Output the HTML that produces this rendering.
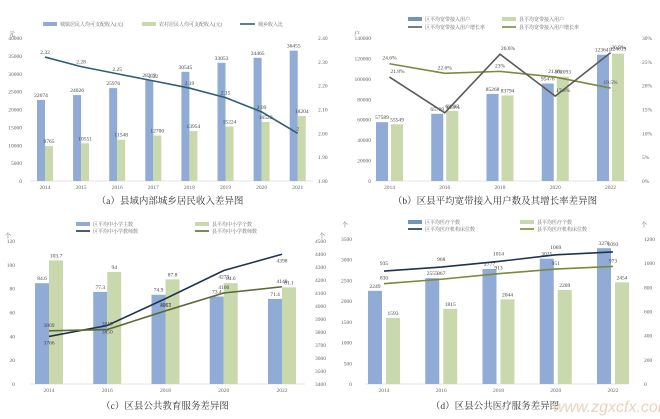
<!DOCTYPE html>
<html><head><meta charset="utf-8"><style>
html,body{margin:0;padding:0;background:#fff;}
svg{display:block;font-family:"Liberation Serif","Noto Serif CJK SC",serif;}
</style></head><body>
<svg id="s" width="660" height="419" viewBox="0 0 660 419" xmlns="http://www.w3.org/2000/svg"></svg>
<script>
const S=document.getElementById('s');let h='';
const B='#8fabd6',G='#cad9ad';
function t(x,y,s,sz,fill,anchor){h+=`<text x="${x}" y="${y}" font-size="${sz||5.5}" fill="${fill||'#555'}" text-anchor="${anchor||'middle'}">${s}</text>`;}
function panel(o){
 // axes labels
 const {y0,y1,lx,rx,lmax,lstep,rmin,rmax,rstep,rfmt,cats,c0,dx,bw,gap,blue,green,lines,title,ax0,ax1}=o;
 for(let v=0;v<=lmax;v+=lstep){const y=y1-(v/lmax)*(y1-y0);t(lx,y+2,v,5.5,'#666','end');}
 for(let v=rmin;v<=rmax+1e-9;v+=rstep){const y=y1-((v-rmin)/(rmax-rmin))*(y1-y0);t(rx,y+2,rfmt(v),5.5,'#666','start');}
 h+=`<line x1="${ax0}" y1="${y1}" x2="${ax1}" y2="${y1}" stroke="#ccc" stroke-width="0.6"/>`;
 const ly=v=>y1-(v/lmax)*(y1-y0), ry=v=>y1-((v-rmin)/(rmax-rmin))*(y1-y0);
 cats.forEach((c,i)=>{const cx=c0+i*dx;
  const bx=cx-gap/2-bw, gx=cx+gap/2;
  h+=`<rect x="${bx}" y="${ly(blue[i])}" width="${bw}" height="${y1-ly(blue[i])}" fill="${B}"/>`;
  h+=`<rect x="${gx}" y="${ly(green[i])}" width="${bw}" height="${y1-ly(green[i])}" fill="${G}"/>`;
  t(bx+bw/2,ly(blue[i])-3,blue[i],5.5,'#444');
  t(gx+bw/2,ly(green[i])-3,green[i],5.5,'#444');
  t(cx,y1+8,c,5.5,'#666');
 });
 lines.forEach(L=>{const pts=L.v.map((v,i)=>`${c0+i*dx},${ry(v)}`).join(' ');
  h+=`<polyline points="${pts}" fill="none" stroke="${L.c}" stroke-width="1.6"/>`;
  L.v.forEach((v,i)=>t(c0+i*dx+(L.dx||0),ry(v)+(L.dy||-4),L.f?L.f(v):v,5.5,'#444'));
 });
 t(title[0],title[1],title[2],9.5,'#333');
}
// (a)
panel({y0:38,y1:181,lx:22,rx:318,lmax:40000,lstep:5000,rmin:1.8,rmax:2.4,rstep:0.1,rfmt:v=>v.toFixed(2),
 cats:[2014,2015,2016,2017,2018,2019,2020,2021],c0:45,dx:36.1,bw:8,gap:0,ax0:30,ax1:313,
 blue:[22674,24026,25976,28219,30545,33053,34465,36455],green:[9765,10551,11548,12700,13954,15224,16529,18204],
 lines:[{c:'#2e6070',v:[2.32,2.28,2.25,2.22,2.19,2.15,2.09,2.00],dy:-3}],title:[170,204,'（a）县域内部城乡居民收入差异图']});
t(12,36,'元',6,'#555');
// legend a
h+=`<rect x="43" y="22" width="14" height="4" fill="${B}"/>`;t(60,26,'城镇居民人均可支配收入(元)',5,'#666','start');
h+=`<rect x="142" y="22" width="14" height="4" fill="${G}"/>`;t(159,26,'农村居民人均可支配收入(元)',5,'#666','start');
h+=`<line x1="240" y1="24" x2="255" y2="24" stroke="#2e6070" stroke-width="1.6"/>`;t(258,26,'城乡收入比',5,'#666','start');
// (b)
panel({y0:38,y1:181,lx:371,rx:642,lmax:140000,lstep:20000,rmin:0,rmax:30,rstep:5,rfmt:v=>v+'%',
 cats:[2014,2016,2018,2020,2022],c0:389.5,dx:55.25,bw:12,gap:3,ax0:375,ax1:628,
 blue:[57589,65739,85268,95478,123641],green:[55549,68613,83794,102093,124619],
 lines:[{c:'#7a8a3e',v:[24.6,22.6,23.0,21.8,19.5],f:v=>v+'%'},{c:'#5a5a5a',v:[21.8,14.3,26.6,17.8,26.9],f:v=>v+'%',dx:8}],title:[495,204,'（b）区县平均宽带接入用户数及其增长率差异图']});
t(357,36,'户',6,'#555');
h+=`<rect x="408" y="17" width="14" height="4" fill="#6f95b8"/>`;t(425,21,'区平均宽带接入用户',5,'#666','start');
h+=`<rect x="502" y="17" width="14" height="4" fill="${G}"/>`;t(519,21,'县平均宽带接入用户',5,'#666','start');
h+=`<line x1="408" y1="27" x2="422" y2="27" stroke="#5a5a5a" stroke-width="1.6"/>`;t(425,29,'区平均宽带接入用户增长率',5,'#666','start');
h+=`<line x1="502" y1="27" x2="516" y2="27" stroke="#7a8a3e" stroke-width="1.6"/>`;t(519,29,'县平均宽带接入用户增长率',5,'#666','start');
// (c)
panel({y0:241,y1:384,lx:15,rx:315,lmax:120,lstep:20,rmin:3400,rmax:4500,rstep:100,rfmt:v=>v,
 cats:[2014,2016,2018,2020,2022],c0:49,dx:58.25,bw:14,gap:0,ax0:30,ax1:305,
 blue:[84.6,77.3,74.9,73.4,71.4],green:[103.7,94,87.8,84.6,81.1],
 lines:[{c:'#1e3350',v:[3766,3850,4057,4273,4398],dy:8},{c:'#5d6a35',v:[3809,3819,3963,4100,4148],dy:-4}],title:[165,409,'（c）区县公共教育服务差异图']});
t(8,238,'个',6,'#555');t(322,238,'个',6,'#555');
h+=`<rect x="76" y="222" width="14" height="4" fill="${B}"/>`;t(93,226,'区平均中小学主数',5,'#666','start');
h+=`<rect x="195" y="222" width="14" height="4" fill="${G}"/>`;t(212,226,'县平均中小学个数',5,'#666','start');
h+=`<line x1="76" y1="231" x2="90" y2="231" stroke="#1e3350" stroke-width="1.6"/>`;t(93,233,'区平均中小学教师数',5,'#666','start');
h+=`<line x1="195" y1="231" x2="209" y2="231" stroke="#5d6a35" stroke-width="1.6"/>`;t(212,233,'县平均中小学教师数',5,'#666','start');
// (d)
panel({y0:239,y1:384,lx:352,rx:644,lmax:3500,lstep:500,rmin:0,rmax:1200,rstep:200,rfmt:v=>v,
 cats:[2014,2016,2018,2020,2022],c0:384,dx:57.25,bw:14,gap:4,ax0:365,ax1:628,
 blue:[2249,2555,2777,3025,3278],green:[1593,1815,2044,2269,2454],
 lines:[{c:'#1e3350',v:[935,968,1014,1069,1093],dy:-6},{c:'#7a8a3e',v:[830,867,913,951,973],dy:-4}],title:[495,409,'（d）区县公共医疗服务差异图']});
t(345,227,'个',6,'#555');t(644,227,'个',6,'#555');
h+=`<rect x="408" y="220" width="14" height="4" fill="#6f95b8"/>`;t(425,224,'区平均医疗个数',5,'#666','start');
h+=`<rect x="520" y="220" width="14" height="4" fill="${G}"/>`;t(537,224,'县平均医疗个数',5,'#666','start');
h+=`<line x1="408" y1="229" x2="422" y2="229" stroke="#1e3350" stroke-width="1.6"/>`;t(425,231,'区平均医疗机构床位数',5,'#666','start');
h+=`<line x1="520" y1="229" x2="534" y2="229" stroke="#7a8a3e" stroke-width="1.6"/>`;t(537,231,'县平均医疗机构床位数',5,'#666','start');
h+=`<text x="612" y="412" font-size="16" fill="#e9d3c0" text-anchor="middle" font-family="Liberation Sans,sans-serif" font-style="italic">www.zgxcfx.com</text>`;
S.innerHTML=h;
</script>
</body></html>
